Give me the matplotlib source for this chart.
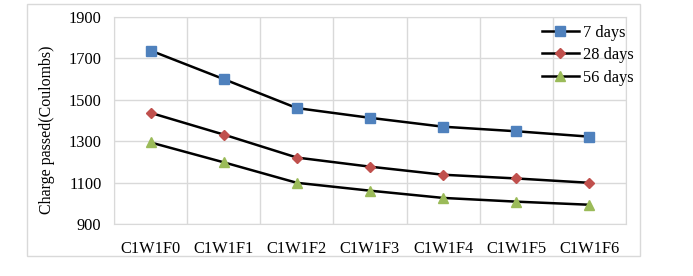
import matplotlib.pyplot as plt
from matplotlib.patches import Rectangle

categories = ["C1W1F0", "C1W1F1", "C1W1F2", "C1W1F3", "C1W1F4", "C1W1F5", "C1W1F6"]
days_7 = [1738, 1600, 1460, 1413, 1370, 1348, 1322]
days_28 = [1437, 1332, 1221, 1177, 1138, 1120, 1099]
days_56 = [1294, 1198, 1099, 1061, 1026, 1008, 993]

plt.rcParams["font.family"] = ["Liberation Serif", "DejaVu Serif"]

fig = plt.figure(figsize=(6.93, 2.76), dpi=100)
# outer chart border
fig.patches.append(Rectangle((27 / 693, 1 - 256 / 276), 613 / 693, 252 / 276,
                             transform=fig.transFigure, fill=False,
                             edgecolor="#d9d9d9", linewidth=1))

ax = fig.add_axes([114 / 693, 1 - 224 / 276, 512 / 693, 207 / 276])
x = range(len(categories))

ax.plot(x, days_7, color="black", lw=1.8, marker="s", ms=7,
        mfc="#4F81BD", mec="#4F81BD", label="7 days")
ax.plot(x, days_28, color="black", lw=1.8, marker="D", ms=5.5,
        mfc="#C0504D", mec="#C0504D", label="28 days")
ax.plot(x, days_56, color="black", lw=1.8, marker="^", ms=7.5,
        mfc="#9BBB59", mec="#9BBB59", label="56 days")

ax.set_xlim(-0.5, len(categories) - 0.5)
ax.set_ylim(900, 1900)
ax.set_yticks(range(900, 1901, 200))
ax.set_xticks(list(x))
ax.set_xticklabels(categories)
ax.set_xticks([i - 0.5 for i in range(len(categories) + 1)], minor=True)

ax.grid(True, which="major", axis="y", color="#d9d9d9", lw=1)
ax.grid(True, which="minor", axis="x", color="#d9d9d9", lw=1)
ax.tick_params(which="both", length=0, labelsize=11.8)
ax.tick_params(axis="x", pad=12)
ax.tick_params(axis="y", pad=9)
for s in ax.spines.values():
    s.set_color("#d9d9d9")
ax.set_axisbelow(True)

ax.set_ylabel("Charge passed(Coulombs)", fontsize=11.4, va="center")
ax.yaxis.set_label_coords(-0.131, 0.455)

ax.legend(loc="upper right", bbox_to_anchor=(1.027, 0.995), frameon=False,
          fontsize=11.8, handlelength=2.3, handletextpad=0.2, labelspacing=0.4,
          borderaxespad=0)

fig.savefig("out.png", dpi=100)
